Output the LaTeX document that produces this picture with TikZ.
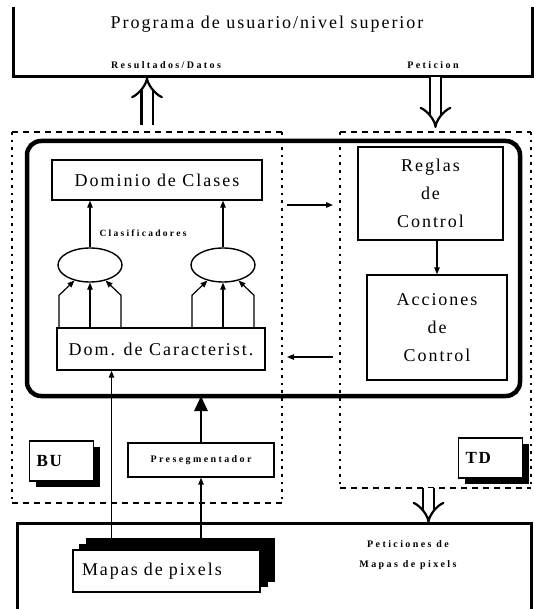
\documentclass[tikz,border=0pt]{standalone}
\usepackage{fontspec}
\setmainfont{Liberation Serif}
\newfontfamily\spacedfont[LetterSpace=11]{Liberation Serif}
\newfontfamily\smallfont[LetterSpace=24]{Liberation Serif}
\usetikzlibrary{arrows.meta,positioning,shapes.geometric,shadows,calc}

\begin{document}
\begin{tikzpicture}[x=1pt, y=-1pt,
  box/.style={draw, line width=1.4pt, fill=white, align=center, inner sep=0pt, font=\spacedfont\fontsize{18}{28}\selectfont},
  tagbox/.style={draw, line width=1.4pt, fill=white, text width=50pt, align=left, inner xsep=7pt, minimum height=40pt,
    font=\spacedfont\bfseries\fontsize{17}{20}\selectfont, drop shadow={shadow xshift=6pt, shadow yshift=-6pt, fill=black, opacity=1}},
  clf/.style={draw, line width=1.4pt, ellipse, minimum width=64pt, minimum height=34pt, inner sep=0pt},
  region/.style={inner sep=0pt, outer sep=0pt},
  lbl/.style={font=\smallfont\bfseries\fontsize{10}{20}\selectfont, align=center},
  frame/.style={line width=3pt},
  dots/.style={line width=2.8pt, dash pattern=on 2.6pt off 5pt},
  dashline/.style={line width=2.4pt, dash pattern=on 6pt off 5pt},
  link/.style={line width=1.2pt, -{Triangle[length=7pt,width=5.5pt]}},
  dbl/.style={double, double distance=9pt, line width=2.2pt, -{Implies[scale=1.3]}}]
  \useasboundingbox (0,0) rectangle (533,609);
  % user program (open at the top)
  \node[region, minimum width=519pt, minimum height=70pt] (user) at (272.5,42) {};
  \draw[frame] (user.north west) -- (user.south west) -- (user.south east) -- (user.north east);
  \node[font=\spacedfont\fontsize{18}{20}\selectfont] (prog) at (267,24) {Programa de usuario/nivel superior};
  \node[lbl] (res) at (166,65) {Resultados/Datos};
  \node[lbl] (pet) at (433,65) {Peticion};
  % BU and TD regions
  \node[region, minimum width=270pt, minimum height=371pt] (bu) at (147,317.5) {};
  \node[region, minimum width=191pt, minimum height=356pt] (td) at (435.5,310) {};
  \draw[dots] (bu.north west) -- (bu.south west) (bu.north east) -- (bu.south east);
  \draw[dashline] (bu.north west) -- (bu.north east) (bu.south west) -- (bu.south east);
  \draw[dots] (td.north west) -- (td.south west) (td.north east) -- (td.south east);
  \draw[dashline] (td.north west) -- (td.north east) (td.south west) -- (td.south east);
  % core
  \node[region, draw, line width=4.5pt, rounded corners=14pt, minimum width=493pt, minimum height=255pt] (core) at (273.5,268.5) {};
  % bottom-up part
  \node[box, minimum width=210pt, minimum height=40pt] (clases) at (157,180) {Dominio de Clases};
  \node[clf] (c1) at (90,265) {};
  \node[clf] (c2) at (223,265) {};
  \node[box, minimum width=208pt, minimum height=42pt] (carac) at (161,349) {Dom. de Caracterist.};
  \node[lbl, font=\smallfont\bfseries\fontsize{9.5}{11}\selectfont] (clasif) at (143,233) {Clasificadores};
  \foreach \c in {c1,c2}{
    \draw[link] (carac.north -| \c.south) -- (\c.south);
    \draw[link] ($(carac.north -| \c.south)+(-31,0)$) -- ++(0,-32) -- (\c.-135);
    \draw[link] ($(carac.north -| \c.south)+(31,0)$) -- ++(0,-32) -- (\c.-45);
    \draw[link] (\c.north) -- (\c.north |- clases.south);
  }
  % top-down part
  \node[box, minimum width=145pt, minimum height=93pt] (reglas) at (430.5,193.5) {Reglas\\de\\Control};
  \node[box, minimum width=140pt, minimum height=105pt] (acciones) at (437,327.5) {Acciones\\de\\Control};
  \draw[link] (acciones.north |- reglas.south) -- (acciones.north);
  \coordinate (req) at (0,205);
  \coordinate (ans) at (0,357);
  \draw[link, shorten <=5pt, shorten >=7pt] (bu.east |- req) -- (td.west |- req);
  \draw[link, shorten <=7pt, shorten >=5pt] (td.west |- ans) -- (bu.east |- ans);
  % pixel maps
  \node[region, minimum width=514pt, minimum height=86pt] (base) at (274,566) {};
  \draw[frame] (base.south west) -- (base.north west) -- (base.north east) -- (base.south east);
  \node[tagbox] (butag) at (61.5,461) {BU};
  \node[tagbox] (tdtag) at (490.5,458) {TD};
  \node[box, minimum width=146pt, minimum height=34pt, font=\smallfont\bfseries\fontsize{10}{12}\selectfont] (pres) at (201,460) {Presegmentador};
  \node[box, text width=169pt, align=left, inner xsep=9pt, minimum height=42pt,
    double copy shadow={shadow xshift=7pt, shadow yshift=5.5pt, fill=black, draw=black}] (mapas) at (166.5,571) {Mapas de pixels};
  \node[lbl] (petmap) at (408,555) {Peticiones de\\Mapas de pixels};
  \coordinate (feed) at ($(mapas.north)+(-55,0)$);
  \draw[link] (feed) -- (feed |- carac.south);
  \draw[link] (pres.south |- mapas.north) -- (pres.south);
  \draw[line width=2.8pt, -{Triangle[length=15pt,width=13pt]}] (pres.north) -- (pres.north |- core.south);
  % requests and results
  \draw[dbl] ([yshift=7pt]bu.north) -- (bu.north |- user.south);
  \draw[dbl] (td.north |- user.south) -- ([yshift=4pt]td.north);
  \coordinate (tdout) at ([xshift=-7pt]td.south);
  \draw[dbl] (tdout) -- (tdout |- base.north);
\end{tikzpicture}
\end{document}
